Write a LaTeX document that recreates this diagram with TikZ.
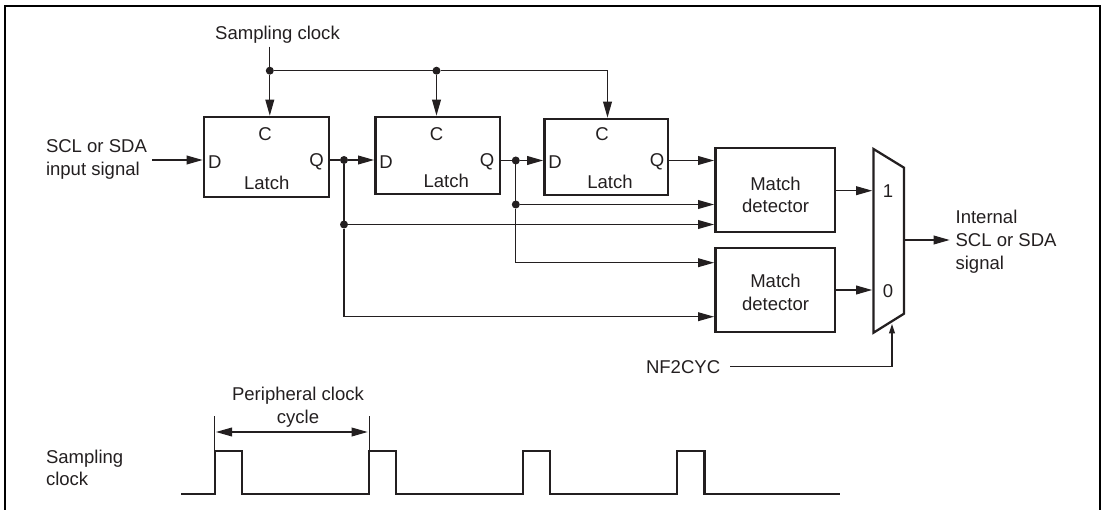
\documentclass[tikz,border=0pt]{standalone}
\usepackage{fontspec}
\setmainfont{Liberation Sans}
\usetikzlibrary{arrows.meta}
\definecolor{ink}{HTML}{231F20}
\tikzset{
  box/.style={draw=ink,line width=1.7pt,inner sep=0pt,outer sep=0pt,anchor=north west},
  conn/.style={draw=ink,line width=0.85pt},
  arr/.style={conn,-{Triangle[length=12pt,width=6.6pt]},shorten >=1pt},
  smallarr/.style={conn,-{Triangle[length=7pt,width=4.4pt]}},
  dimarr/.style={conn,{Triangle[length=12pt,width=6.6pt]}-{Triangle[length=12pt,width=6.6pt]}},
  tick/.style={draw=ink,line width=0.6pt},
  wave/.style={draw=ink,line width=1.7pt,line join=miter},
  dot/.style={circle,fill=ink,inner sep=0pt,minimum size=6pt,outer sep=0pt},
  lab/.style={font=\fontsize{13.9}{17}\selectfont,text=ink,inner sep=0pt,outer sep=0pt,yshift=-1.3pt},
  leftlab/.style={lab,align=left,anchor=west},
  midlab/.style={lab,align=center}
}
\begin{document}
\begin{tikzpicture}[x=0.75pt,y=-0.75pt]
\useasboundingbox (0,0) rectangle (1101,510);
% frame
\draw[draw=black,line width=1.7pt] (5,510) -- (5,6) -- (1100,6) -- (1100,510);
% boxes
\node[box,minimum width=93.75pt,minimum height=60pt] (l1) at (204,117) {};
\node[box,minimum width=93.4pt,minimum height=57.75pt] (l2) at (375.4,117) {};
\node[box,minimum width=92.6pt,minimum height=57pt] (l3) at (544.5,119) {};
\node[box,minimum width=89.5pt,minimum height=63pt] (m1) at (715.4,148) {};
\node[box,minimum width=89.5pt,minimum height=63pt] (m2) at (715.4,248) {};
% multiplexer
\coordinate (mtl) at (873.5,149);
\coordinate (mtr) at (904,167.7);
\coordinate (mbr) at (904,313.7);
\coordinate (mbl) at (873.5,332.7);
\draw[draw=ink,line width=1.7pt,line join=miter] (mtl) -- (mtr) -- (mbr) -- (mbl) -- cycle;
% latch labels
\node[midlab] (c1) at (265,132) {C};
\node[midlab] (d1) at (214.7,160) {D};
\node[midlab] (q1) at (316.5,160) {Q};
\node[midlab] (t1) at (266.7,181) {Latch};
\node[midlab] (c2) at (436.5,132) {C};
\node[midlab] (d2) at (386,160) {D};
\node[midlab] (q2) at (487,160) {Q};
\node[midlab] (t2) at (446.3,178.7) {Latch};
\node[midlab] (c3) at (602,132.5) {C};
\node[midlab] (d3) at (555,160.5) {D};
\node[midlab] (q3) at (657,160.5) {Q};
\node[midlab] (t3) at (610,180) {Latch};
\node[midlab] (mt1) at (775.5,193) {Match\\detector};
\node[midlab] (mt2) at (775.5,290.5) {Match\\detector};
\node[midlab] (one) at (888,189) {1};
\node[midlab] (zero) at (888,289.7) {0};
% other labels
\node[midlab] (sc) at (277.5,33) {Sampling clock};
\node[leftlab] (in) at (46,157.5) {SCL or SDA\\input signal};
\node[leftlab] (out) at (955.6,240) {Internal\\SCL or SDA\\signal};
\node[leftlab] (nf) at (646,365.5) {NF2CYC};
\node[midlab] (pc) at (298,405.5) {Peripheral clock\\cycle};
\node[leftlab] (sc2) at (46,466) {Sampling\\clock};
% junctions
\node[dot] (j1) at (269.8,70.7) {};
\node[dot] (j2) at (436.5,70.7) {};
\node[dot] (j3) at (344,160) {};
\node[dot] (j4) at (344,224.5) {};
\node[dot] (j5) at (515.8,160.5) {};
\node[dot] (j6) at (515.8,204.5) {};
% free ends
\coordinate (sctop) at (269.8,46.7);
\coordinate (c3in) at (607.5,70.7);
\coordinate (instart) at (152,160);
\coordinate (ostop) at (951,240);
\coordinate (nfstart) at (730,366.7);
\coordinate (nfcorner) at (892,366.7);
\coordinate (nfend) at (892,324);
\coordinate (k1) at (344,316.7);
\coordinate (k2) at (515.8,262.7);
\coordinate (y1) at (0,190.7);
\coordinate (y0) at (0,290);
% clock
\draw[conn] (sctop) -- (j1);
\draw[conn] (j1) -- (j2) -- (c3in);
\draw[arr] (j1) -- (j1 |- l1.north);
\draw[arr] (j2) -- (j2 |- l2.north);
\draw[arr] (c3in) -- (c3in |- l3.north);
% data path
\draw[arr] (instart) -- (instart -| l1.west);
\draw[arr] (l1.east |- j3) -- (j3) -- (j3 -| l2.west);
\draw[arr] (l2.east |- j5) -- (j5) -- (j5 -| l3.west);
\draw[arr] (l3.east |- j5) -- (j5 -| m1.west);
\draw[conn] (j3) -- (j4);
\draw[conn] (j5) -- (j6);
\draw[arr] (j6) -- (j6 -| m1.west);
\draw[arr] (j4) -- (j4 -| m1.west);
\draw[arr] (j4) -- (k1) -- (k1 -| m2.west);
\draw[arr] (j6) -- (k2) -- (k2 -| m2.west);
\draw[arr] (m1.east |- y1) -- (y1 -| mtl);
\draw[arr] (m2.east |- y0) -- (y0 -| mtl);
\draw[arr] (mtr |- ostop) -- (ostop);
\draw[conn] (nfstart) -- (nfcorner);
\draw[smallarr] (nfcorner) -- (nfend);
% timing
\coordinate (w0) at (181.4,494);
\coordinate (r1) at (214.7,450.7);
\coordinate (f1) at (242,450.7);
\coordinate (r2) at (369,450.7);
\coordinate (f2) at (396,450.7);
\coordinate (r3) at (523,450.7);
\coordinate (f3) at (550,450.7);
\coordinate (r4) at (677,450.7);
\coordinate (f4) at (704.5,450.7);
\coordinate (w9) at (840,494);
\draw[wave] (w0) -- (w0 -| r1) -- (r1) -- (f1) -- (f1 |- w0) -- (r2 |- w0) -- (r2) -- (f2) -- (f2 |- w0) -- (r3 |- w0) -- (r3) -- (f3) -- (f3 |- w0) -- (r4 |- w0) -- (r4) -- (f4) -- (f4 |- w0) -- (w9);
\coordinate (ta) at (214.7,416);
\coordinate (tb) at (369,416);
\coordinate (da) at (214.7,432);
\draw[tick] (ta) -- (ta |- r1);
\draw[tick] (tb) -- (tb |- r1);
\draw[dimarr,shorten <=1pt,shorten >=1pt] (da) -- (da -| tb);
\end{tikzpicture}
\end{document}
